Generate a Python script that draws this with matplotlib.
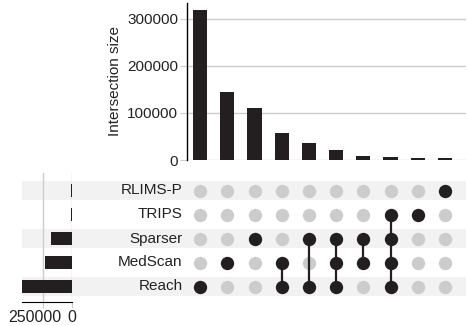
import numpy as np
import matplotlib
matplotlib.use("Agg")
import matplotlib.pyplot as plt
from matplotlib.transforms import ScaledTranslation

plt.rcParams['font.family'] = ['Liberation Sans', 'DejaVu Sans']

# readers (bottom to top in the matrix)
sets = ["Reach", "MedScan", "Sparser", "TRIPS", "RLIMS-P"]
set_sizes = [437000, 236000, 184000, 11000, 9000]

# intersections, largest first; membership lists which readers take part
inter_sizes = [318500, 144000, 110000, 57400, 36800, 21900, 9300, 5700, 5000, 3600]
membership = [
    ["Reach"],
    ["MedScan"],
    ["Sparser"],
    ["Reach", "MedScan"],
    ["Reach", "Sparser"],
    ["Reach", "MedScan", "Sparser"],
    ["MedScan", "Sparser"],
    ["Reach", "MedScan", "Sparser", "TRIPS"],
    ["TRIPS"],
    ["RLIMS-P"],
]

DARK = "#231f20"
LIGHT = "#cccccc"
BAND = "#f2f2f2"

W, H = 468, 326
fig = plt.figure(figsize=(W / 100, H / 100), dpi=100)


def rect(l, t, r, b):
    return [l / W, 1 - b / H, (r - l) / W, (b - t) / H]


col_w = 27.2
x0_px = 186.5
right_px = 466
x_right = -0.5 + (right_px - x0_px) / col_w
ncol = len(inter_sizes)
xs = np.arange(ncol)

# --- intersection size bars
ax_top = fig.add_axes(rect(x0_px, 3, right_px, 160))
ax_top.bar(xs, inter_sizes, width=0.52, color=DARK, zorder=3)
ax_top.set_xlim(-0.5, x_right)
ax_top.set_ylim(0, 334000)
ax_top.set_yticks([0, 100000, 200000, 300000])
ax_top.yaxis.grid(True, color=LIGHT, linewidth=1)
ax_top.set_axisbelow(True)
for s in ["top", "right", "bottom"]:
    ax_top.spines[s].set_visible(False)
ax_top.spines["left"].set_color("black")
ax_top.spines["left"].set_linewidth(1)
ax_top.set_xticks([])
ax_top.tick_params(axis="y", colors=LIGHT, labelcolor="#222222", labelsize=11, length=5, pad=1)
ax_top.set_ylabel("Intersection size", fontsize=11, color="#222222", labelpad=4)

# --- membership matrix
row_top, row_bot = 178.5, 298.5
mat_left = 21.7
x_left = -0.5 - (x0_px - mat_left) / col_w
ax_mat = fig.add_axes(rect(mat_left, row_top, right_px, row_bot))
ax_mat.set_xlim(x_left, x_right)
ax_mat.set_ylim(-0.5, len(sets) - 0.5)
ax_mat.axis("off")

for i, name in enumerate(sets):
    if i % 2 == 0:
        ax_mat.axhspan(i - 0.4, i + 0.4, color=BAND, zorder=0, linewidth=0)
    ax_mat.text(-0.64, i, name, ha="right", va="center", fontsize=11, color="#222222")

for j, members in enumerate(membership):
    rows = [sets.index(m) for m in members]
    on = np.isin(np.arange(len(sets)), rows)
    ax_mat.scatter(np.full(len(sets), j)[~on], np.arange(len(sets))[~on],
                   s=92, color=LIGHT, zorder=2, linewidths=0)
    ax_mat.scatter(np.full(len(rows), j), rows, s=92, color=DARK, zorder=4, linewidths=0)
    if len(rows) > 1:
        ax_mat.plot([j, j], [min(rows), max(rows)], color=DARK, linewidth=1.6, zorder=3)

# --- set size bars
ax_set = fig.add_axes(rect(21.7, 173, 72.3, 301.7))
ax_set.patch.set_alpha(0)
ax_set.barh(np.arange(len(sets)), set_sizes, height=0.58, color=DARK, zorder=3)
ax_set.set_xlim(max(set_sizes), 0)
ax_set.set_ylim(-(301.7 - 286.5) / 24, 4 + (190.5 - 173) / 24)
ax_set.set_xticks([250000, 0])
ax_set.set_yticks([])
ax_set.xaxis.grid(True, color=LIGHT, linewidth=1)
ax_set.set_axisbelow(True)
for s in ["top", "right", "left"]:
    ax_set.spines[s].set_visible(False)
ax_set.spines["bottom"].set_color("black")
ax_set.tick_params(axis="x", colors=LIGHT, labelcolor="#222222", labelsize=11.5, length=4, pad=2)

# nudge the long tick label left so it clears the "0"
fig.canvas.draw()
big_tick = ax_set.xaxis.get_major_ticks()[0].label1
big_tick.set_transform(big_tick.get_transform() + ScaledTranslation(-9 / 100, 0, fig.dpi_scale_trans))

fig.savefig("out.png", dpi=100)
